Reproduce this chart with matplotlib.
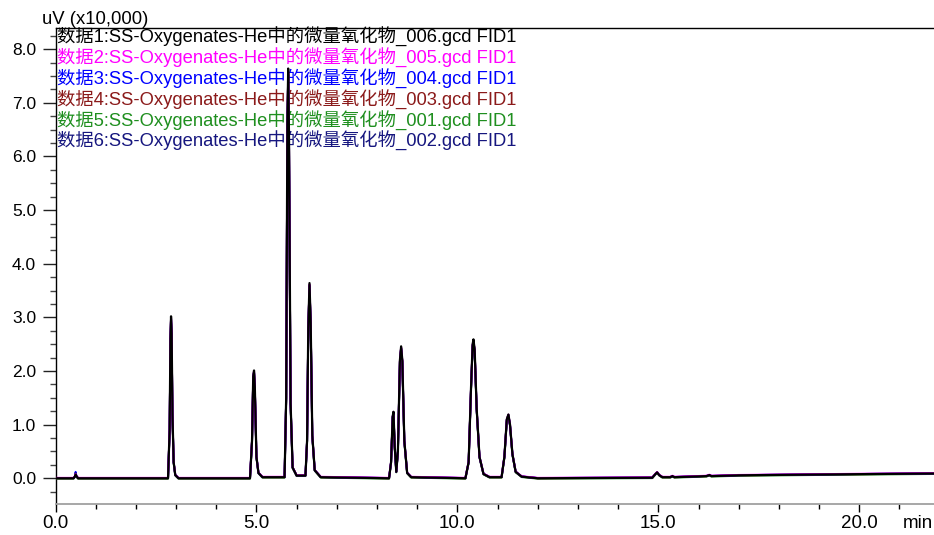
import numpy as np
import matplotlib
matplotlib.use("Agg")
import matplotlib.pyplot as plt
from matplotlib.ticker import MultipleLocator, FormatStrFormatter

plt.rcParams['font.family'] = ['Liberation Sans', 'Noto Sans CJK SC', 'DejaVu Sans']

# chromatogram vertices (time in min, signal in uV x10,000)
times = [0.00, 0.45, 0.49, 0.50, 0.52, 0.56, 2.80, 2.84, 2.86, 2.875, 2.89, 2.91, 2.94, 2.98, 3.06,
         4.84, 4.89, 4.92, 4.94, 4.96, 5.00, 5.05, 5.15, 5.70, 5.74, 5.77, 5.79, 5.81, 5.85,
         5.90, 6.00, 6.22, 6.26, 6.29, 6.32, 6.35, 6.39, 6.45, 6.60, 8.30, 8.35, 8.39, 8.41,
         8.44, 8.48, 8.52, 8.57, 8.60, 8.63, 8.68, 8.75, 8.85, 10.20, 10.28, 10.34, 10.38, 10.40,
         10.43, 10.48, 10.55, 10.65, 10.80, 11.10, 11.17, 11.23, 11.27, 11.31, 11.37, 11.45, 11.60,
         12.00, 14.85, 14.93, 14.97, 15.02, 15.10, 15.30, 15.35, 15.40, 16.20, 16.27, 16.32,
         17.00, 19.00, 22.00]
signal = [0.00, 0.00, 0.04, 0.07, 0.04, 0.00, 0.00, 0.90, 2.60, 3.02, 2.70, 1.20, 0.30, 0.06, 0.00,
          0.00, 0.70, 1.90, 2.01, 1.70, 0.40, 0.10, 0.02, 0.02, 1.50, 6.60, 7.64, 6.40, 1.40,
          0.20, 0.05, 0.05, 0.70, 2.80, 3.64, 2.90, 0.80, 0.15, 0.02, 0.00, 0.30, 1.15, 1.24,
          0.60, 0.12, 0.50, 2.20, 2.46, 2.20, 0.70, 0.10, 0.02, 0.00, 0.30, 1.70, 2.50, 2.59,
          2.40, 1.30, 0.40, 0.08, 0.02, 0.02, 0.40, 1.10, 1.19, 1.00, 0.45, 0.12, 0.03,
          0.00, 0.01, 0.08, 0.11, 0.06, 0.02, 0.02, 0.04, 0.02, 0.04, 0.06, 0.04,
          0.055, 0.07, 0.09]

labels = ['数据1:SS-Oxygenates-He中的微量氧化物_006.gcd FID1',
          '数据2:SS-Oxygenates-He中的微量氧化物_005.gcd FID1',
          '数据3:SS-Oxygenates-He中的微量氧化物_004.gcd FID1',
          '数据4:SS-Oxygenates-He中的微量氧化物_003.gcd FID1',
          '数据5:SS-Oxygenates-He中的微量氧化物_001.gcd FID1',
          '数据6:SS-Oxygenates-He中的微量氧化物_002.gcd FID1']
colors = ['#000000', '#ff00ff', '#0000ff', '#8b1a1a', '#1f8f1f', '#16167f']
# small run-to-run differences between the overlaid traces
trace_scale = [1.00, 0.99, 0.985, 0.99, 0.985, 0.99]
trace_offset = [0.000, 0.008, 0.004, 0.000, -0.008, 0.003]
spike_05 = [0.07, 0.08, 0.12, 0.07, 0.06, 0.10]

fig = plt.figure(figsize=(9.34, 5.35), dpi=100)
ax = fig.add_axes([55.5 / 934, 31 / 535, (934 - 55.5) / 934, (504 - 28.3) / 535])

t = np.array(times)
s = np.array(signal)
spike_idx = times.index(0.50)
draw_order = [4, 3, 2, 5, 1, 0]
for i in draw_order:
    y = s * trace_scale[i] + trace_offset[i]
    y[spike_idx] = spike_05[i]
    ax.plot(t, y, color=colors[i], lw=1.6 if i == 0 else 1.4, zorder=3 + draw_order.index(i),
            solid_joinstyle='round')

ax.set_xlim(0, 21.86)
ax.set_ylim(-0.48, 8.39)

ax.xaxis.set_major_locator(MultipleLocator(5))
ax.xaxis.set_minor_locator(MultipleLocator(1))
ax.yaxis.set_major_locator(MultipleLocator(1))
ax.yaxis.set_minor_locator(MultipleLocator(0.25))
ax.xaxis.set_major_formatter(FormatStrFormatter('%.1f'))
ax.yaxis.set_major_formatter(FormatStrFormatter('%.1f'))

ax.tick_params(axis='y', which='major', length=9.4, width=1, pad=4.5, labelsize=12.5, color='#222222')
ax.tick_params(axis='y', which='minor', length=4.3, width=1, color='#444444')
ax.tick_params(axis='x', which='major', length=6, width=1, pad=2, labelsize=13.5)
ax.tick_params(axis='x', which='minor', length=3.8, width=1)

ax.spines['right'].set_visible(False)
ax.spines['bottom'].set_color('#a0a0a0')
ax.spines['bottom'].set_linewidth(1.3)
ax.spines['left'].set_linewidth(1)
ax.spines['top'].set_linewidth(1)

ax.text(21.45, -0.04, 'min', transform=ax.get_xaxis_transform(), ha='center', va='center',
        fontsize=13.5)
fig.text(42 / 934, 1 - 19 / 535, 'uV (x10,000)', ha='left', va='center', fontsize=13.3)

for i, lab in enumerate(labels):
    ax.text(0.002, 1 - (9 + 20.8 * i) / 475.7, lab, transform=ax.transAxes, color=colors[i],
            fontsize=13.2, ha='left', va='center', zorder=2)

fig.savefig('out.png', dpi=100)
